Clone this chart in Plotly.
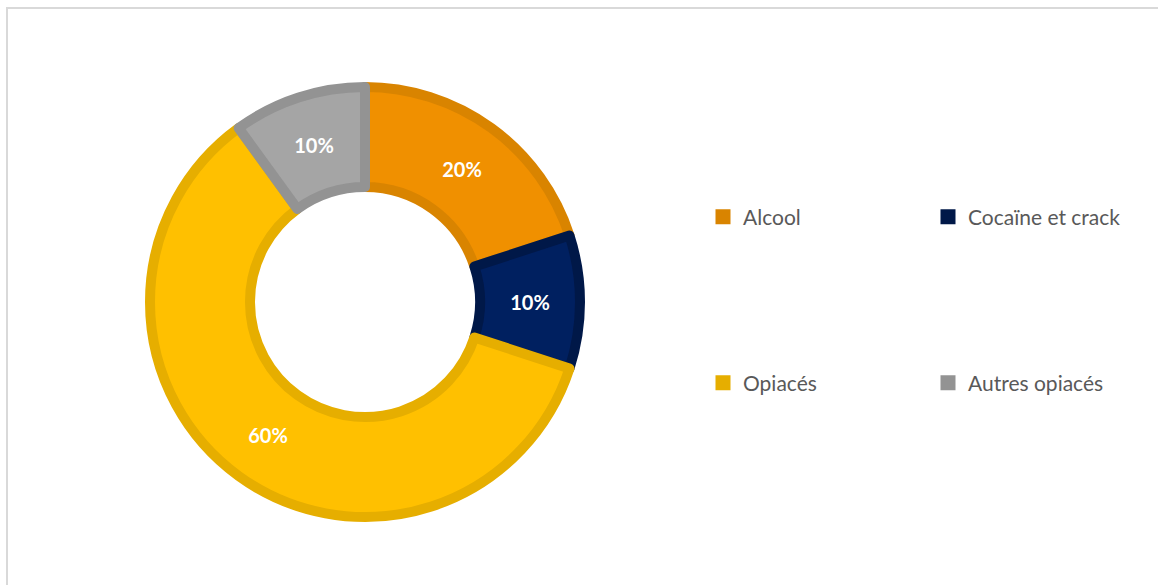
import plotly.graph_objects as go

categories = ["Alcool", "Cocaïne et crack", "Opiacés", "Autres opiacés"]
values = [20, 10, 60, 10]
fill_colors = ["#F09000", "#002060", "#FFC000", "#A5A5A5"]
line_colors = ["#D98400", "#001848", "#E6AE00", "#939393"]
legend_ids = ["legend", "legend2", "legend3", "legend4"]

W, H = 1158, 585
cx, cy, r = 365, 302, 215

fig = go.Figure()
fig.add_trace(go.Pie(
    labels=categories, values=values, sort=False, direction="clockwise", rotation=0,
    hole=0.535,
    marker=dict(colors=fill_colors, line=dict(color=line_colors, width=10)),
    texttemplate="%{percent:.0%}", textposition="inside", insidetextorientation="horizontal",
    textfont=dict(family="Lato", size=20, color="white", weight="bold"),
    showlegend=False, hoverinfo="label+percent",
    domain=dict(x=[(cx - r) / W, (cx + r) / W], y=[(H - cy - r) / H, (H - cy + r) / H]),
))

for cat, lc, lg in zip(categories, line_colors, legend_ids):
    fig.add_trace(go.Scatter(
        x=[None], y=[None], mode="markers", name=cat, legend=lg,
        marker=dict(symbol="square", size=15, color=lc, line=dict(width=0)),
    ))

leg_common = dict(orientation="h", xanchor="left", yanchor="middle",
                  font=dict(family="Lato", size=21, color="#595959"),
                  itemwidth=30, bgcolor="rgba(0,0,0,0)")

# legend item positions (px): column lefts and row centres
col_x = [703, 928]
row_y = [217, 383]
pos = [(col_x[0], row_y[0]), (col_x[1], row_y[0]), (col_x[0], row_y[1]), (col_x[1], row_y[1])]

layout_legends = {}
for lg, (px, py) in zip(legend_ids, pos):
    layout_legends[lg] = dict(x=px / W, y=1 - py / H, **leg_common)

fig.update_layout(
    width=W, height=H, margin=dict(l=0, r=0, t=0, b=0),
    paper_bgcolor="white", plot_bgcolor="white",
    xaxis=dict(visible=False), yaxis=dict(visible=False),
    shapes=[dict(type="rect", xref="paper", yref="paper",
                 x0=7 / W, x1=1.02, y0=-0.02, y1=1 - 8 / H,
                 line=dict(color="#D9D9D9", width=2), fillcolor="rgba(0,0,0,0)", layer="below")],
    **layout_legends,
)

fig.write_html("out.html")
